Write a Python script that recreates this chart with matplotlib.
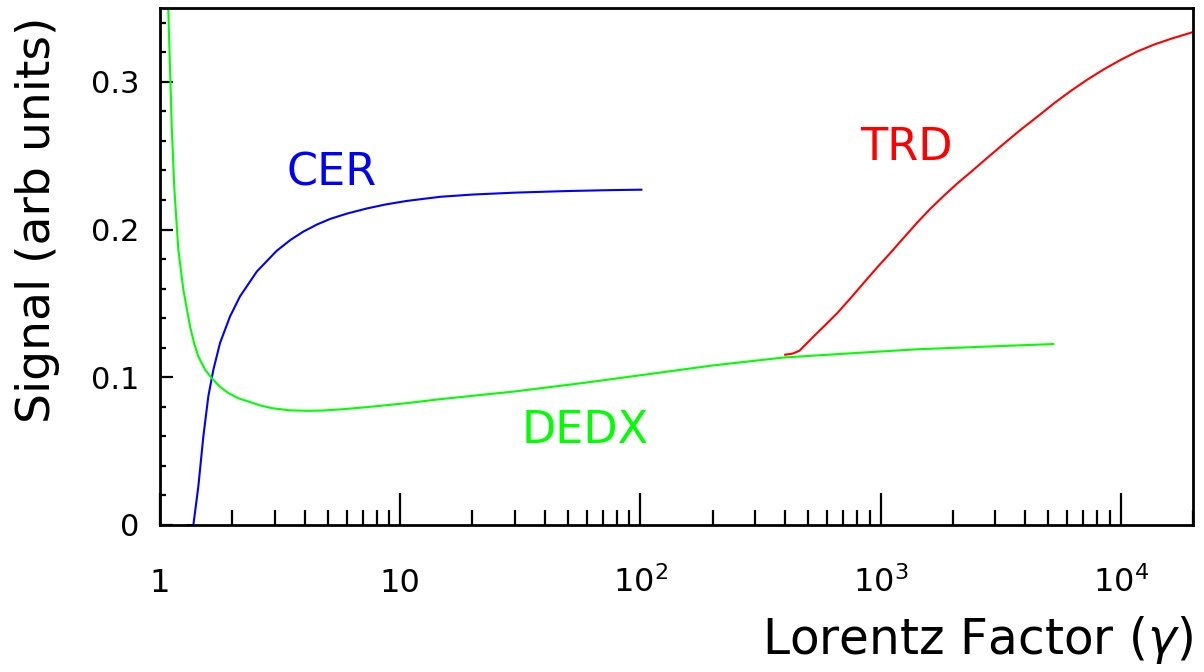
import numpy as np
import matplotlib
matplotlib.use('Agg')
import matplotlib.pyplot as plt
from matplotlib.ticker import FixedLocator, MultipleLocator, LogLocator, NullFormatter

plt.rcParams['font.family'] = ['DejaVu Sans']
plt.rcParams['mathtext.fontset'] = 'dejavusans'

# Cherenkov signal (blue)
cer_x = [1.31, 1.377, 1.444, 1.515, 1.589, 1.668, 1.778, 1.957, 2.154, 2.53, 3.06,
         3.5, 3.95, 4.5, 5.11, 6.0, 7.27, 8.7, 10.66, 14.7, 20, 30, 50, 75, 101]
cer_y = [0.0, 0.0, 0.026, 0.0599, 0.087, 0.1051, 0.1232, 0.1412, 0.1548, 0.1716, 0.1856,
         0.1931, 0.1986, 0.2034, 0.2072, 0.2108, 0.2143, 0.2170, 0.2194, 0.2222, 0.2237,
         0.2250, 0.2261, 0.2267, 0.227]

# dE/dx signal (green)
dedx_x = [1.075, 1.083, 1.092, 1.101, 1.119, 1.147, 1.192, 1.251, 1.334, 1.388, 1.444,
          1.54, 1.642, 1.78, 1.926, 2.12, 2.332, 2.61, 2.92, 3.48, 4.1, 4.79, 5.9, 7.27,
          10.66, 14.7, 30, 60, 109, 200, 396, 800, 1440, 3000, 5240]
dedx_y = [0.37, 0.349, 0.328, 0.309, 0.270, 0.228, 0.1864, 0.1593, 0.1344, 0.1228, 0.1141,
          0.1052, 0.0994, 0.0935, 0.0893, 0.0858, 0.0836, 0.081, 0.0791, 0.0776, 0.0773,
          0.0775, 0.0785, 0.0798, 0.0825, 0.0852, 0.0904, 0.0965, 0.1022, 0.108, 0.1134,
          0.1165, 0.119, 0.121, 0.1225]

# transition radiation signal (red)
trd_x = [401, 430, 460, 490, 527, 590, 661, 750, 851, 970, 1099, 1250, 1417, 1610, 1827,
         2080, 2371, 2780, 3256, 3840, 4530, 5300, 6190, 7260, 8508, 9980, 11700, 13800,
         16300, 20100]
trd_y = [0.1153, 0.116, 0.118, 0.1225, 0.1277, 0.1355, 0.1435, 0.1535, 0.1639, 0.1745,
         0.1842, 0.1945, 0.2045, 0.2140, 0.2226, 0.2310, 0.2388, 0.2485, 0.2580, 0.2677,
         0.2768, 0.2857, 0.2938, 0.3015, 0.3085, 0.3148, 0.3205, 0.3253, 0.3293, 0.3338]

xticks = [1, 10, 100, 1000, 10000]
xtick_labels = ['1', '10', r'$\mathregular{10^{2}}$', r'$\mathregular{10^{3}}$',
                r'$\mathregular{10^{4}}$']
yticks = [0, 0.1, 0.2, 0.3]
ytick_labels = ['0', '0.1', '0.2', '0.3']

fig = plt.figure(figsize=(12.04, 6.72), dpi=100)
ax = fig.add_axes([160/1204, 1 - 525/672, 1033/1204, 517/672])

ax.plot(cer_x, cer_y, color='#0000ff', lw=1.5)
ax.plot(dedx_x, dedx_y, color='#00ff00', lw=1.5)
ax.plot(trd_x, trd_y, color='#ff0000', lw=1.5)

ax.text(5.16, 0.238, 'CER', color='#0000ff', fontsize=32, ha='center', va='center')
ax.text(1283, 0.2556, 'TRD', color='#ff0000', fontsize=32, ha='center', va='center')
ax.text(59, 0.064, 'DEDX', color='#00ff00', fontsize=32, ha='center', va='center')

ax.set_xscale('log')
ax.set_xlim(1, 2.0e4)
ax.set_ylim(0, 0.35)

ax.xaxis.set_major_locator(FixedLocator(xticks))
ax.set_xticklabels(xtick_labels)
ax.xaxis.set_minor_locator(LogLocator(base=10, subs=np.arange(2, 10)))
ax.xaxis.set_minor_formatter(NullFormatter())
ax.set_yticks(yticks)
ax.set_yticklabels(ytick_labels)
ax.yaxis.set_minor_locator(MultipleLocator(0.02))

ax.tick_params(axis='x', which='major', direction='in', length=23, width=1.6,
               labelsize=23, pad=48, top=False)
ax.tick_params(axis='x', which='minor', direction='in', length=11, width=1.6, top=False)
ax.tick_params(axis='y', which='major', direction='in', length=9, width=1.6,
               labelsize=22, pad=15, right=False)
ax.tick_params(axis='y', which='minor', direction='in', length=4.5, width=1.6, right=False)
for lab in ax.get_xticklabels():
    lab.set_verticalalignment('baseline')

for s in ax.spines.values():
    s.set_linewidth(2)

ax.set_xlabel(r'Lorentz Factor ($\gamma$)', fontsize=35)
ax.xaxis.set_label_coords(1.0, -0.222)
ax.xaxis.label.set_horizontalalignment('right')
ax.xaxis.label.set_verticalalignment('center')

ax.set_ylabel('Signal (arb units)', fontsize=34)
ax.yaxis.label.set_rotation_mode('anchor')
ax.yaxis.set_label_coords(-0.119, 0.983)
ax.yaxis.label.set_horizontalalignment('right')
ax.yaxis.label.set_verticalalignment('center')

fig.savefig('out.png', dpi=100)
